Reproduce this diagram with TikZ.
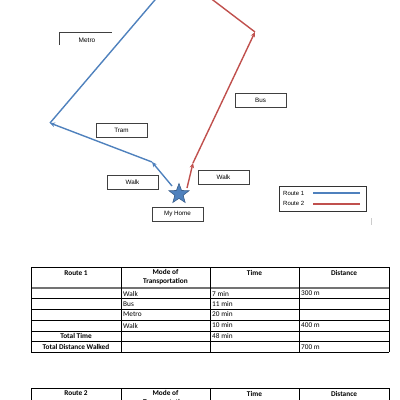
\documentclass[tikz,border=0pt]{standalone}
\usepackage{fontspec}
\setmainfont{Carlito}
\newfontfamily\lab{Liberation Sans}
\usetikzlibrary{shapes.geometric,arrows.meta}
\definecolor{rblue}{HTML}{4F81BD}
\definecolor{rred}{HTML}{C0504D}
\definecolor{sdark}{HTML}{385D8A}
\begin{document}
\begin{tikzpicture}[x=1pt,y=-1pt,
  lbox/.style={draw=black!75,line width=0.8pt,minimum width=51pt,minimum height=14pt,inner sep=0pt,font=\lab\fontsize{6.3}{7}\selectfont},
  route1/.style={rblue,line width=1.4pt},
  route2/.style={rred,line width=1.4pt},
  arr/.style={-{Stealth[length=5pt,width=4.5pt]}},
  tb/.style={black,line width=0.7pt},
  th/.style={font=\bfseries\fontsize{7.3}{9}\selectfont,inner sep=0pt,align=center},
  td/.style={font=\fontsize{7.3}{9}\selectfont,inner sep=0pt,anchor=west},
]
\useasboundingbox (0,0) rectangle (400,400);
\begin{scope}
\clip (0,0) rectangle (400,400);
% ---------- map ----------
\node[star,star points=5,star point ratio=2.4,minimum size=21pt,inner sep=0pt,fill=rblue,draw=sdark,line width=0.6pt] (home) at (179,194) {};
\coordinate (r1a) at (152,162);
\coordinate (r1b) at (50,123);
\coordinate (r1c) at (160,-6);
\coordinate (r2a) at (193,163);
\coordinate (r2b) at (255,32);
\coordinate (r2c) at (205,-6);
\coordinate (h1) at (172,186);
\coordinate (h2) at (187,188);
\draw[route1,arr] (h1) -- (r1a);
\draw[route1,arr] (r1a) -- (r1b);
\draw[route1] (r1b) -- (r1c);
\draw[route2,arr] (h2) -- (r2a);
\draw[route2,arr] (r2a) -- (r2b);
\draw[route2] (r2b) -- (r2c);

\coordinate (m1) at (59,45);
\coordinate (m2) at (59,32);
\coordinate (m3) at (112,32);
\draw[black!75,line width=0.8pt] (m1) -- (m2) -- (m3);
\node[font=\lab\fontsize{6.5}{7}\selectfont] (metro) at (87,40) {Metro};
\node[lbox] (tram) at (121.5,130) {Tram};
\node[lbox] (walk1) at (132.5,182.5) {Walk};
\node[lbox] (myhome) at (177.5,214) {My Home};
\node[lbox] (walk2) at (223.5,177.5) {Walk};
\node[lbox] (bus) at (260.5,100) {Bus};

% legend
\node[draw=black!80,line width=0.8pt,minimum width=87pt,minimum height=25pt,inner sep=0pt] (legend) at (322.5,198.5) {};
\node[font=\lab\fontsize{6}{7}\selectfont,anchor=west,inner sep=0pt] (l1) at (283,193) {Route 1};
\node[font=\lab\fontsize{6}{7}\selectfont,anchor=west,inner sep=0pt] (l2) at (283,203.5) {Route 2};
\coordinate (l1a) at (313,193); \coordinate (l1b) at (360,193);
\coordinate (l2a) at (313,204); \coordinate (l2b) at (360,204);
\draw[route1,line width=1.6pt] (l1a) -- (l1b);
\draw[route2,line width=1.6pt] (l2a) -- (l2b);
\coordinate (g1) at (371,218); \coordinate (g2) at (371,225);
\draw[black!20,line width=0.8pt] (g1) -- (g2);

% ---------- table 1 ----------
\foreach \y in {267,298.5,309,320,331,341.5,352} \draw[tb] (31,\y) -- (389,\y);
\draw[black!55,line width=1.4pt] (31,288) -- (389,288);
\foreach \x in {31,121,210,299,389} \draw[tb] (\x,267) -- (\x,352);
\node[th] (t1h1) at (76,273) {Route 1};
\node[th] (t1h2) at (165.5,277.5) {Mode of\\Transportation};
\node[th] (t1h3) at (254.5,273) {Time};
\node[th] (t1h4) at (344,273) {Distance};
\node[td] (t1m1) at (123,293.5) {Walk};
\node[td] (t1m2) at (123,304) {Bus};
\node[td] (t1m3) at (123,314.5) {Metro};
\node[td] (t1m4) at (123,325.5) {Walk};
\node[td] (t1t1) at (212,293.5) {7 min};
\node[td] (t1t2) at (212,304) {11 min};
\node[td] (t1t3) at (212,314.5) {20 min};
\node[td] (t1t4) at (212,325.5) {10 min};
\node[td] (t1t5) at (212,336) {48 min};
\node[td] (t1d1) at (301,293.5) {300 m};
\node[td] (t1d4) at (301,325.5) {400 m};
\node[td] (t1d6) at (301,347) {700 m};
\node[th] (t1tt) at (76,336) {Total Time};
\node[th] (t1td) at (76,347) {Total Distance Walked};

% ---------- table 2 ----------
\draw[tb] (31,388) -- (389,388);
\foreach \x in {31,121,210,299,389} \draw[tb] (\x,388) -- (\x,410);
\node[th] (t2h1) at (76,393.5) {Route 2};
\node[th] (t2h2) at (165.5,398) {Mode of\\Transportation};
\node[th] (t2h3) at (254.5,393.5) {Time};
\node[th] (t2h4) at (344,393.5) {Distance};
\end{scope}
\end{tikzpicture}
\end{document}
